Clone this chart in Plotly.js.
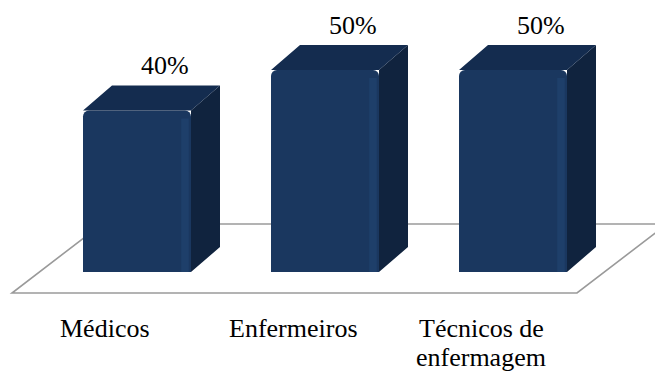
<!DOCTYPE html>
<html>
<head>
<meta charset="utf-8">
<script src="https://cdn.plot.ly/plotly-3.0.1.min.js"></script>
<style>html,body{margin:0;padding:0;background:#fff}#chart{width:655px;height:371px}</style>
</head>
<body>
<div id="chart"></div>
<script>
// ---- data ----
const categories = ['Médicos', 'Enfermeiros', 'Técnicos de<br>enfermagem'];
const values = [40, 50, 50];
const valueLabels = ['40%', '50%', '50%'];

// ---- geometry / style ----
const W = 655, H = 371;
const pxPerCat = 188, x0px = 137;      // category spacing and first centre in px
const basePx = 272, pxPerUnit = 4.04;  // baseline and value scale in px
const barW = 108 / pxPerCat;           // front face width in category units
const depthX = 29 / pxPerCat;          // 3D depth offset (x units)
const depthY = 25 / pxPerUnit;         // 3D depth offset (value units)
const xRange = [-x0px / pxPerCat, (W - x0px) / pxPerCat];
const yRange = [(basePx - H) / pxPerUnit, basePx / pxPerUnit];
const toX = px => (px - x0px) / pxPerCat;
const toY = px => (basePx - px) / pxPerUnit;

const font = 'Liberation Serif';
const cFront = '#1a375f', cTop = '#142c4f', cSide = '#10233e', cStrip = '#1e3f6a';

const xs = categories.map((_, i) => i);

// top faces & side faces (polygons derived from the values)
const topX = [], topY = [], sideX = [], sideY = [];
xs.forEach((x, i) => {
  const v = values[i];
  const l = x - barW / 2, r = x + barW / 2;
  topX.push(l, r, r + depthX, l + depthX, l, null);
  topY.push(v, v, v + depthY, v + depthY, v, null);
  sideX.push(r, r + depthX, r + depthX, r, r, null);
  sideY.push(0, depthY, v + depthY, v, 0, null);
});

const traces = [
  {type: 'scatter', x: sideX, y: sideY, fill: 'toself', fillcolor: cSide,
   mode: 'lines', line: {width: 0, color: cSide}, hoverinfo: 'skip', showlegend: false},
  {type: 'scatter', x: topX, y: topY, fill: 'toself', fillcolor: cTop,
   mode: 'lines', line: {width: 0, color: cTop}, hoverinfo: 'skip', showlegend: false},
  {type: 'bar', x: xs, y: values, width: barW, offset: -barW / 2,
   marker: {color: cFront, line: {width: 0}, cornerradius: 6}, showlegend: false, hoverinfo: 'skip'},
  {type: 'bar', x: xs, y: values.map(v => v - 2), width: 0.04, offset: barW / 2 - 0.052,
   marker: {color: cStrip, line: {width: 0}}, showlegend: false, hoverinfo: 'skip'}
];

// floor parallelogram
const fl = toX(12), fr = toX(577), fb = toY(293), ft = toY(224);
const fdx = 90 / pxPerCat;
const floorPath = `M ${fl},${fb} L ${fr},${fb} L ${fr + fdx},${ft} L ${fl + fdx},${ft} Z`;

const annotations = [];
xs.forEach((x, i) => {
  annotations.push({
    x: x + 28 / pxPerCat, y: values[i] + depthY, xref: 'x', yref: 'y',
    text: valueLabels[i], showarrow: false, xanchor: 'center', yanchor: 'bottom', yshift: 3,
    font: {family: font, size: 26, color: '#000'}
  });
  const lines = categories[i].split('<br>');
  lines.forEach((ln, j) => {
    annotations.push({
      x: x - 32 / pxPerCat, y: toY(312 + 29 * j), xref: 'x', yref: 'y',
      text: ln, showarrow: false, xanchor: 'center', yanchor: 'top',
      font: {family: font, size: 26, color: '#000'}
    });
  });
});

const layout = {
  width: W, height: H,
  margin: {l: 0, r: 0, t: 0, b: 0, pad: 0},
  paper_bgcolor: '#fff', plot_bgcolor: '#fff',
  font: {family: font},
  barmode: 'overlay',
  xaxis: {range: xRange, visible: false, showgrid: false, zeroline: false, fixedrange: true},
  yaxis: {range: yRange, visible: false, showgrid: false, zeroline: false, fixedrange: true},
  shapes: [{type: 'path', path: floorPath, xref: 'x', yref: 'y', layer: 'below',
            line: {color: '#9a9a9a', width: 1.6}, fillcolor: 'rgba(0,0,0,0)'}],
  annotations: annotations,
  showlegend: false
};

Plotly.newPlot('chart', traces, layout, {displayModeBar: false, staticPlot: true});
</script>
</body>
</html>
